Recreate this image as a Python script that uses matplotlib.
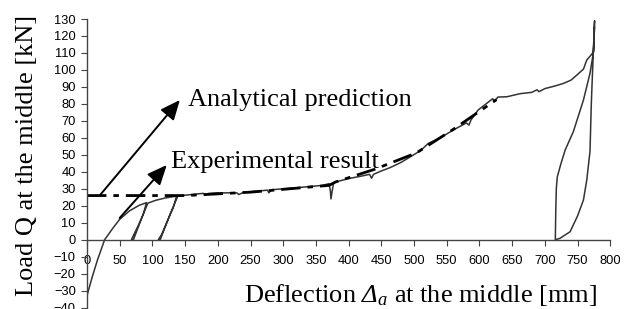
import matplotlib
matplotlib.use("Agg")
import matplotlib.pyplot as plt

# experimental load-deflection record (mm, kN), in test order
EXP_X = [0, 8, 16, 27, 40, 50, 65, 80, 91,
         86, 78, 71, 68,
         71, 76, 84, 93,
         105, 120, 137,
         132, 123, 114, 109,
         112, 118, 127, 139,
         150, 165, 178, 181, 185, 200, 220, 229, 232, 240, 260, 276, 278, 282,
         300, 320, 340, 360, 370, 372, 373, 375, 377, 382, 400, 420, 432, 435,
         438, 450, 463, 480, 499, 510, 522, 540, 560, 580, 584, 587, 598, 611,
         620, 624, 628, 642, 662, 680, 688, 691, 700, 715, 728, 740, 749, 759,
         764, 770, 774.5, 776,
         774, 771, 769, 764, 759, 750, 743.5, 738.6, 723, 716,
         716, 716.7, 717.5, 719, 724, 731, 743.5, 759, 769, 774, 776]
EXP_Y = [-33, -22, -12, 0, 7, 12, 17, 20.3, 21.8,
         15, 8, 2.5, 0,
         0, 5, 13, 21.5,
         23.2, 24.6, 25.7,
         19, 11, 3, 0,
         0, 6, 15, 25.8,
         26.2, 26.8, 27.3, 26.2, 27.2, 27.6, 27.6, 27.6, 26.6, 28, 28.6, 29.2, 27.6, 29.4,
         30, 30.6, 31.3, 32, 33, 29, 24, 29, 33.5, 34.2, 36, 37.5, 38.5, 36.2,
         38.5, 40.5, 42.4, 45.5, 49.9, 52.5, 56.8, 60, 64.6, 68.8, 67.5, 70.5, 76.4, 80.3,
         83, 81.8, 84, 84.2, 86, 86.8, 88.3, 87.2, 89, 90.5, 92, 94, 97, 100.5,
         105.8, 108.5, 110.7, 129,
         110, 80, 52, 35, 23.4, 14, 8.7, 4.7, 0.8, 0,
         0, 17.5, 30, 37, 44, 52.8, 63.6, 82.3, 98, 109.8, 125]

# analytical prediction
ANA_X = [0, 150, 250, 370, 380, 440, 504, 560, 626]
ANA_Y = [26, 26, 28, 32, 34, 41.5, 51.2, 65, 82.5]

X_TICKS = list(range(0, 801, 50))
Y_TICKS = list(range(-40, 131, 10))

# arrow tail -> head, label anchor
ANA_ARROW = [(20, 26.3), (142, 82.3)]
ANA_LABEL = (154, 79)
EXP_ARROW = [(50, 12.8), (122, 44)]
EXP_LABEL = (128, 42.5)

plt.rcParams['font.family'] = ['Liberation Sans', 'DejaVu Sans']
plt.rcParams['mathtext.fontset'] = 'custom'
plt.rcParams['mathtext.rm'] = 'Liberation Serif'
plt.rcParams['mathtext.it'] = 'Liberation Serif:italic'
plt.rcParams['mathtext.cal'] = 'Liberation Serif:italic'

fig = plt.figure(figsize=(6.33, 3.09), dpi=100)
ax = fig.add_axes([0.1374, 0.0045, 0.8267, 0.934])

ax.plot(EXP_X, EXP_Y, color='#333333', lw=1.1)
ax.plot(ANA_X, ANA_Y, color='black', lw=2, linestyle=(0, (7, 2.5, 2, 2.5)))

ax.set_xlim(0, 800)
ax.set_ylim(-40, 130)
ax.set_xticks(X_TICKS)
ax.set_yticks(Y_TICKS)

ax.spines['top'].set_visible(False)
ax.spines['right'].set_visible(False)
ax.spines['bottom'].set_position(('data', 0))
ax.spines['left'].set_position(('data', 0))
for s in ['bottom', 'left']:
    ax.spines[s].set_color('#444444')
    ax.spines[s].set_linewidth(1)
ax.tick_params(axis='x', direction='out', length=4, pad=7, labelsize=9.3, color='#444444')
ax.tick_params(axis='y', direction='out', length=4, pad=4, labelsize=9.3, color='#444444')
ax.patch.set_visible(False)

arrow = dict(arrowstyle='-|>,head_length=0.8,head_width=0.35', color='black',
             lw=1.4, mutation_scale=15, shrinkA=0, shrinkB=0)
ax.annotate('', xy=ANA_ARROW[1], xytext=ANA_ARROW[0], arrowprops=arrow)
ax.annotate('', xy=EXP_ARROW[1], xytext=EXP_ARROW[0], arrowprops=arrow)
ax.text(ANA_LABEL[0], ANA_LABEL[1], 'Analytical prediction', fontsize=19,
        family='Liberation Serif', va='baseline', ha='left')
ax.text(EXP_LABEL[0], EXP_LABEL[1], 'Experimental result', fontsize=19,
        family='Liberation Serif', va='baseline', ha='left')

fig.text(27 / 633, 0.498, 'Load Q at the middle [kN]', rotation=90, fontsize=19,
         family='Liberation Serif', ha='center', va='center')
fig.text(420 / 633, 7.3 / 309, r'Deflection $\mathcal{\Delta}_a$ at the middle [mm]',
         fontsize=19, family='Liberation Serif', ha='center', va='baseline')

fig.savefig('out.png', dpi=100)
